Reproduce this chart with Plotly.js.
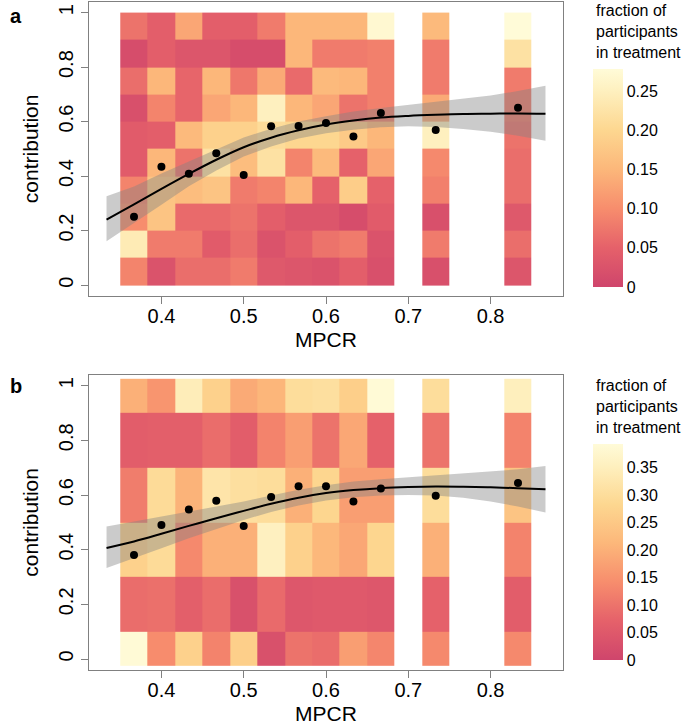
<!DOCTYPE html>
<html><head><meta charset="utf-8">
<script src="https://cdn.plot.ly/plotly-3.0.1.min.js"></script>
<style>html,body{margin:0;padding:0;background:#fff}#chart{width:685px;height:727px}</style>
</head><body><div id="chart"></div>
<script>
// ---- data ----
const mpcr = [11/30, 12/30, 13/30, 14/30, 15/30, 16/30, 17/30, 18/30, 19/30, 20/30, 22/30, 25/30];
const xTicks = [0.4, 0.5, 0.6, 0.7, 0.8];
const yTicks = [0, 0.2, 0.4, 0.6, 0.8, 1];
const yTickLabels = ['0', '0.2', '0.4', '0.6', '0.8', '1'];

// panel a: contribution bins (edges) and fraction of participants, rows bottom -> top
const binsA = [0, 0.1, 0.2, 0.3, 0.4, 0.5, 0.6, 0.7, 0.8, 0.9, 1.0];
const shareA = [
  [0.09, 0.025, 0.065, 0.065, 0.08, 0.035, 0.03, 0.025, 0.045, 0.02, 0.02, 0.03],
  [0.24, 0.08, 0.08, 0.04, 0.065, 0.025, 0.045, 0.07, 0.08, 0.025, 0.08, 0.065],
  [0.10, 0.17, 0.06, 0.06, 0.07, 0.045, 0.03, 0.03, 0.015, 0.04, 0.02, 0.035],
  [0.09, 0.17, 0.16, 0.17, 0.08, 0.09, 0.15, 0.05, 0.185, 0.05, 0.085, 0.065],
  [0.04, 0.15, 0.07, 0.22, 0.16, 0.22, 0.09, 0.155, 0.05, 0.13, 0.095, 0.065],
  [0.04, 0.045, 0.155, 0.19, 0.19, 0.21, 0.2, 0.2, 0.18, 0.15, 0.25, 0.07],
  [0.02, 0.09, 0.055, 0.13, 0.15, 0.25, 0.15, 0.13, 0.07, 0.085, 0.135, 0.08],
  [0.065, 0.15, 0.055, 0.15, 0.075, 0.135, 0.06, 0.155, 0.15, 0.085, 0.08, 0.08],
  [0.015, 0.045, 0.03, 0.03, 0.015, 0.015, 0.15, 0.08, 0.08, 0.085, 0.08, 0.22],
  [0.07, 0.045, 0.13, 0.045, 0.045, 0.08, 0.15, 0.15, 0.15, 0.27, 0.155, 0.28]
];
const meanA = [0.251, 0.434, 0.409, 0.484, 0.404, 0.583, 0.584, 0.595, 0.545, 0.632, 0.569, 0.651];

// panel b
const binsB = [-0.025, 0.1, 0.3, 0.5, 0.7, 0.9, 1.025];
const shareB = [
  [0.39, 0.14, 0.27, 0.125, 0.265, 0.03, 0.1, 0.09, 0.17, 0.13, 0.135, 0.135],
  [0.09, 0.095, 0.065, 0.09, 0.03, 0.085, 0.045, 0.05, 0.05, 0.045, 0.07, 0.06],
  [0.27, 0.295, 0.135, 0.2, 0.2, 0.355, 0.27, 0.215, 0.185, 0.28, 0.2, 0.125],
  [0.115, 0.295, 0.205, 0.32, 0.305, 0.3, 0.2, 0.28, 0.17, 0.17, 0.3, 0.24],
  [0.06, 0.065, 0.065, 0.09, 0.06, 0.125, 0.17, 0.1, 0.185, 0.07, 0.1, 0.125],
  [0.2, 0.155, 0.345, 0.27, 0.19, 0.21, 0.3, 0.305, 0.265, 0.39, 0.3, 0.35]
];
const meanB = [0.381, 0.490, 0.547, 0.579, 0.487, 0.593, 0.632, 0.632, 0.576, 0.624, 0.597, 0.644];

// fitted curves with confidence bands
const fitX = [0.3333, 0.3667, 0.4, 0.4333, 0.4667, 0.5, 0.5333, 0.5667, 0.6, 0.6333, 0.6667, 0.7, 0.7333, 0.7667, 0.8, 0.8333, 0.8667];
const fitA = [0.240, 0.296, 0.353, 0.408, 0.460, 0.506, 0.541, 0.568, 0.589, 0.604, 0.615, 0.621, 0.625, 0.628, 0.629, 0.630, 0.629];
const fitAUpper = [0.326, 0.362, 0.410, 0.454, 0.500, 0.542, 0.574, 0.600, 0.620, 0.637, 0.650, 0.661, 0.672, 0.684, 0.696, 0.712, 0.732];
const fitALower = [0.161, 0.228, 0.295, 0.363, 0.421, 0.472, 0.509, 0.538, 0.557, 0.570, 0.579, 0.583, 0.580, 0.573, 0.563, 0.548, 0.530];
const fitB = [0.406, 0.430, 0.458, 0.487, 0.515, 0.542, 0.568, 0.590, 0.607, 0.618, 0.625, 0.629, 0.631, 0.630, 0.628, 0.625, 0.621];
const fitBUpper = [0.485, 0.503, 0.521, 0.539, 0.558, 0.576, 0.598, 0.619, 0.636, 0.649, 0.658, 0.665, 0.672, 0.680, 0.687, 0.694, 0.706];
const fitBLower = [0.333, 0.369, 0.405, 0.442, 0.476, 0.509, 0.538, 0.562, 0.580, 0.592, 0.598, 0.600, 0.598, 0.590, 0.576, 0.558, 0.536];

const cbTicksA = [0, 0.05, 0.10, 0.15, 0.20, 0.25];
const cbLabelsA = ['0', '0.05', '0.10', '0.15', '0.20', '0.25'];
const cbTicksB = [0, 0.05, 0.10, 0.15, 0.20, 0.25, 0.30, 0.35];
const cbLabelsB = ['0', '0.05', '0.10', '0.15', '0.20', '0.25', '0.30', '0.35'];
const zMaxA = 0.278, zMaxB = 0.393;

// ---- build ----
function buildColumns(centers, rows) {
  let w = Infinity;
  for (let i = 1; i < centers.length; i++) w = Math.min(w, centers[i] - centers[i - 1]);
  const edges = [centers[0] - w / 2];
  const idx = [];
  centers.forEach((c, i) => {
    const left = c - w / 2;
    if (left - edges[edges.length - 1] > 1e-6) { edges.push(left); idx.push(null); }
    edges.push(c + w / 2);
    idx.push(i);
  });
  const z = rows.map(r => idx.map(k => (k === null ? null : r[k])));
  return { edges, z };
}

const FONT = 'Liberation Sans, Arial, Helvetica, sans-serif';
const scale = [
  [0, '#CF456C'], [0.18, '#E5616A'], [0.36, '#F78D6D'], [0.54, '#FCB77A'],
  [0.72, '#FDD790'], [0.90, '#FEF0BF'], [1, '#FFFBD8']
];

function panel(share, bins, mean, fit, up, lo, xa, ya, zmax, cbT, cbL, cbY, cbLen) {
  const cols = buildColumns(mpcr, share);
  return [
    {
      type: 'heatmap', x: cols.edges, y: bins, z: cols.z, xaxis: xa, yaxis: ya,
      colorscale: scale, zmin: 0, zmax: zmax, hoverongaps: false,
      colorbar: {
        thickness: 30, thicknessmode: 'pixels', len: cbLen, lenmode: 'pixels',
        x: 593 / 685, xanchor: 'left', y: cbY, yanchor: 'middle', xpad: 0, ypad: 0,
        outlinewidth: 0, ticks: '', tickvals: cbT, ticktext: cbL,
        tickfont: { family: FONT, size: 16, color: '#000' }, title: { text: '' }
      }
    },
    {
      type: 'scatter', mode: 'lines', xaxis: xa, yaxis: ya,
      x: fitX.concat(fitX.slice().reverse()), y: up.concat(lo.slice().reverse()),
      fill: 'toself', fillcolor: 'rgba(130,130,130,0.42)', line: { width: 0 }, hoverinfo: 'skip'
    },
    {
      type: 'scatter', mode: 'lines', xaxis: xa, yaxis: ya, x: fitX, y: fit,
      line: { color: '#000', width: 2, shape: 'spline' }
    },
    {
      type: 'scatter', mode: 'markers', xaxis: xa, yaxis: ya, x: mpcr, y: mean,
      marker: { color: '#000', size: 8 }
    }
  ];
}

const data = []
  .concat(panel(shareA, binsA, meanA, fitA, fitAUpper, fitALower, 'x', 'y', zMaxA, cbTicksA, cbLabelsA, 1 - 178 / 727, 218))
  .concat(panel(shareB, binsB, meanB, fitB, fitBUpper, fitBLower, 'x2', 'y2', zMaxB, cbTicksB, cbLabelsB, 1 - 552 / 727, 216));

function xAxis(anchor) {
  return {
    domain: [89 / 685, 563 / 685], range: [0.312, 0.888], anchor: anchor,
    showline: true, linecolor: '#808080', linewidth: 1, mirror: true,
    ticks: 'outside', ticklen: 7, tickcolor: '#808080', tickwidth: 1,
    tickvals: xTicks, ticktext: xTicks.map(v => v.toFixed(1)),
    tickfont: { family: FONT, size: 20, color: '#000' }, ticklabelstandoff: -5,
    title: { text: 'MPCR', font: { family: FONT, size: 21, color: '#000' }, standoff: 6 },
    showgrid: false, zeroline: false, automargin: false
  };
}
function yAxis(anchor, dom) {
  return {
    domain: dom, range: [-0.04, 1.04], anchor: anchor,
    showline: true, linecolor: '#808080', linewidth: 1, mirror: true,
    ticks: 'outside', ticklen: 7, tickcolor: '#808080', tickwidth: 1,
    tickvals: yTicks, ticktext: yTickLabels, tickangle: -90,
    tickfont: { family: FONT, size: 20, color: '#000' },
    title: { text: 'contribution', font: { family: FONT, size: 21, color: '#000' }, standoff: 10 },
    showgrid: false, zeroline: false, automargin: false
  };
}

const cbTitle = 'fraction of<br>participants<br>in treatment';
const layout = {
  width: 685, height: 727, margin: { l: 0, r: 0, t: 0, b: 0 },
  paper_bgcolor: '#fff', plot_bgcolor: '#fff', showlegend: false,
  font: { family: FONT, color: '#000' },
  xaxis: xAxis('y'), yaxis: yAxis('x', [1 - 296 / 727, 1 - 1.7 / 727]),
  xaxis2: xAxis('y2'), yaxis2: yAxis('x2', [1 - 670 / 727, 1 - 374.7 / 727]),
  annotations: [
    { text: '<b>a</b>', x: 8 / 685, y: 1 - 3 / 727, xref: 'paper', yref: 'paper', xanchor: 'left', yanchor: 'top', showarrow: false, font: { family: FONT, size: 20 } },
    { text: '<b>b</b>', x: 8 / 685, y: 1 - 373 / 727, xref: 'paper', yref: 'paper', xanchor: 'left', yanchor: 'top', showarrow: false, font: { family: FONT, size: 20 } },
    { text: cbTitle, x: 594 / 685, y: 1 - 0 / 727, xref: 'paper', yref: 'paper', xanchor: 'left', yanchor: 'top', align: 'left', showarrow: false, font: { family: FONT, size: 16 } },
    { text: cbTitle, x: 594 / 685, y: 1 - 375 / 727, xref: 'paper', yref: 'paper', xanchor: 'left', yanchor: 'top', align: 'left', showarrow: false, font: { family: FONT, size: 16 } }
  ]
};

Plotly.newPlot('chart', data, layout, { displayModeBar: false, staticPlot: true });
</script>
</body></html>
